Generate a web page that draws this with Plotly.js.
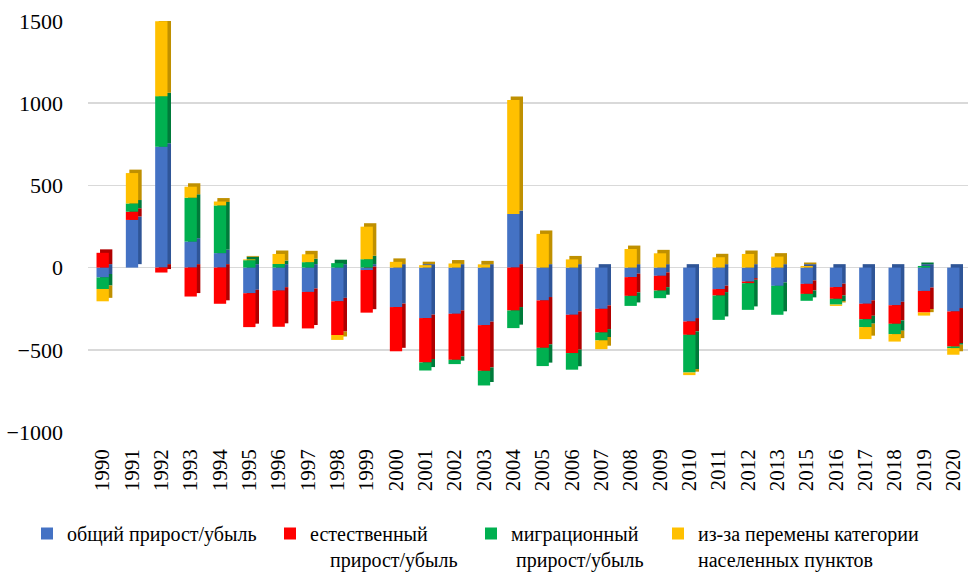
<!DOCTYPE html>
<html>
<head>
<meta charset="utf-8">
<script src="https://cdn.plot.ly/plotly-3.0.1.min.js"></script>
<style>html,body{margin:0;padding:0;background:#fff;}#chart{width:970px;height:572px;}</style>
</head>
<body>
<div id="chart"></div>
<script>
var years = ['1990','1991','1992','1993','1994','1995','1996','1997','1998','1999','2000','2001','2002','2003','2004','2005','2006','2007','2008','2009','2010','2011','2012','2013','2015','2016','2017','2018','2019','2020'];
var totalChange = [-60,290,735,158,88,-156,-140,-148,-205,-15,-240,-307,-281,-350,326,-200,-287,-251,-58,-50,-328,-131,-85,-111,-99,-119,-220,-229,-142,-267];
var naturalChange = [90,50,-30,-176,-220,-206,-220,-222,-205,-259,-269,-270,-280,-278,-261,-288,-233,-144,-114,-90,-81,-39,-10,0,-61,-71,-94,-113,-131,-213];
var migrationChange = [-70,50,308,267,290,45,22,33,27,51,0,-49,-26,-89,-107,-111,-101,-48,-61,-46,-229,-148,-162,-176,-42,-35,-48,-63,10,-10];
var categoryChange = [-75,185,455,67,24,5,61,48,-30,198,35,15,25,20,693,205,50,-53,113,87,-16,63,83,67,10,-8,-73,-45,-19,-40];
var seriesNames = ['общий прирост/убыль','естественный<br>&nbsp;&nbsp;&nbsp;&nbsp;прирост/убыль','миграционный<br>&nbsp;прирост/убыль','из-за перемены категории<br>населенных пунктов'];

var seriesValues = [totalChange, naturalChange, migrationChange, categoryChange];
var frontColors = ['#4472C4','#FF0000','#00B050','#FFC000'];
var sideColors = ['#2F5597','#B00000','#007A3A','#BF9000'];
var legendIds = ['legend','legend2','legend3','legend4'];

var traces = [];
// side/top faces (pseudo-3D), drawn behind on base axes shifted up-right
for (var i = 0; i < 4; i++) {
  traces.push({type:'bar', x:years, y:seriesValues[i], xaxis:'x', yaxis:'y',
    marker:{color:sideColors[i], line:{width:0}}, showlegend:false, hoverinfo:'skip'});
}
for (var j = 0; j < 4; j++) {
  traces.push({type:'bar', x:years, y:seriesValues[j], xaxis:'x2', yaxis:'y2',
    name:seriesNames[j], legend:legendIds[j],
    marker:{color:frontColors[j], line:{width:0}}});
}

var fontFam = 'Liberation Serif, Times New Roman, serif';
var dx = 0.12, dy = 21;
function legendAt(px) {
  return {x:px/970, y:(572-514)/572, xref:'container', yref:'container', xanchor:'left', yanchor:'top',
    orientation:'h', valign:'top', bgcolor:'rgba(0,0,0,0)', font:{family:fontFam, size:20, color:'#000'},
    itemclick:false, itemdoubleclick:false};
}
var layout = {
  width:970, height:572,
  margin:{l:88, r:2, t:21, b:140},
  paper_bgcolor:'#fff', plot_bgcolor:'#fff',
  barmode:'relative', bargap:0.58,
  font:{family:fontFam, color:'#000'},
  xaxis:{type:'category', range:[-0.5-dx, 29.5-dx], showgrid:false, showticklabels:false, zeroline:false, showline:false, fixedrange:true},
  yaxis:{range:[-1000-dy, 1500-dy], showgrid:false, showticklabels:false, zeroline:false, showline:false, fixedrange:true},
  xaxis2:{type:'category', overlaying:'x', side:'bottom', range:[-0.5, 29.5], showgrid:false, zeroline:false, showline:false,
    tickangle:-90, tickfont:{family:fontFam, size:21, color:'#000'}, ticks:'', ticklabelstandoff:12, fixedrange:true},
  yaxis2:{overlaying:'y', side:'left', range:[-1000, 1500], tickvals:[-1000,-500,0,500,1000,1500], showgrid:true, gridcolor:'#D9D9D9', gridwidth:1.5,
    zeroline:true, zerolinecolor:'#D9D9D9', zerolinewidth:1.5, showline:false,
    tickfont:{family:fontFam, size:22, color:'#000'}, ticks:'', ticklabelstandoff:24, fixedrange:true},
  legend:legendAt(27),
  legend2:legendAt(270),
  legend3:legendAt(471),
  legend4:legendAt(658)
};
Plotly.newPlot('chart', traces, layout, {displayModeBar:false, staticPlot:true});
</script>
</body>
</html>
